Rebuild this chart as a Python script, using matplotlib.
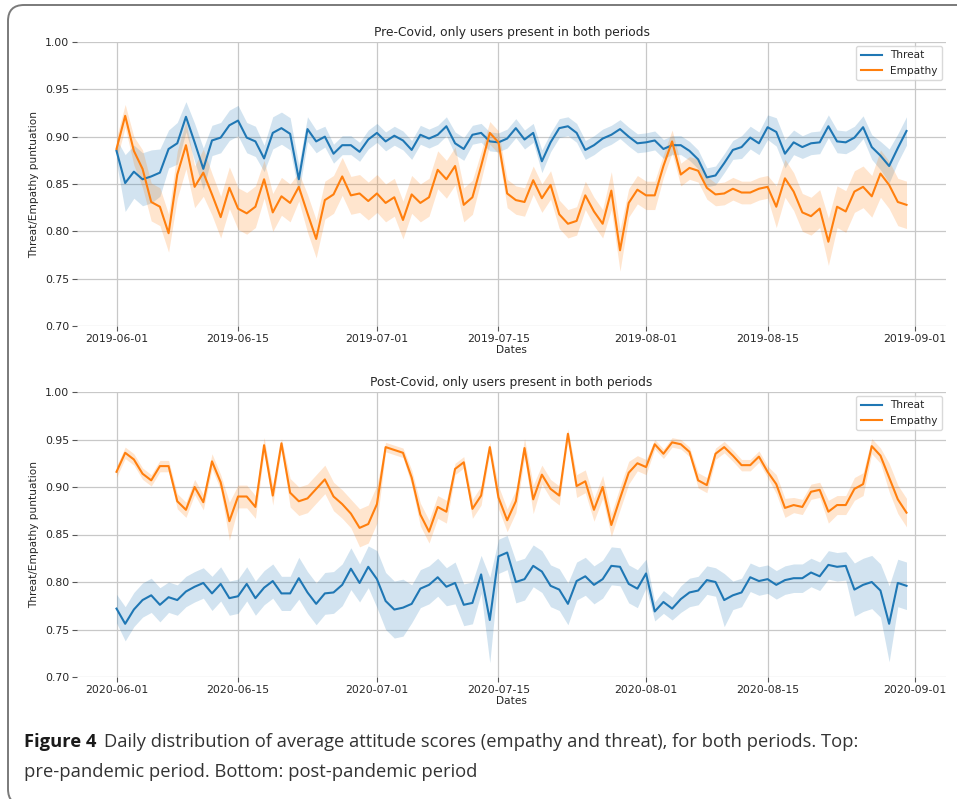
import numpy as np
import pandas as pd
import matplotlib
matplotlib.use("Agg")
import matplotlib.pyplot as plt
import matplotlib.dates as mdates
from matplotlib.patches import FancyBboxPatch
from matplotlib.transforms import IdentityTransform

# ---- daily mean scores and confidence half-widths ----
pre_dates = pd.date_range("2019-06-01", "2019-08-31", freq="D")
post_dates = pd.date_range("2020-06-01", "2020-08-31", freq="D")

pre_threat = [0.885, 0.851, 0.863, 0.855, 0.858, 0.862, 0.887, 0.893, 0.921, 0.894,
              0.866, 0.896, 0.899, 0.912, 0.917, 0.899, 0.895, 0.877, 0.904, 0.909,
              0.903, 0.855, 0.908, 0.895, 0.900, 0.882, 0.891, 0.891, 0.884, 0.897,
              0.904, 0.895, 0.901, 0.896, 0.886, 0.902, 0.898, 0.902, 0.911, 0.893,
              0.887, 0.902, 0.904, 0.895, 0.894, 0.898, 0.909, 0.897, 0.904, 0.874,
              0.894, 0.909, 0.911, 0.904, 0.886, 0.891, 0.898, 0.902, 0.908, 0.900,
              0.893, 0.894, 0.896, 0.887, 0.891, 0.891, 0.885, 0.876, 0.857, 0.859,
              0.872, 0.886, 0.889, 0.899, 0.893, 0.910, 0.905, 0.882, 0.894, 0.889,
              0.893, 0.894, 0.911, 0.895, 0.894, 0.899, 0.910, 0.889, 0.880, 0.869,
              0.888, 0.906]
pre_threat_ci = [0.012, 0.030, 0.028, 0.028, 0.028, 0.025, 0.020, 0.022, 0.016, 0.020,
                 0.022, 0.016, 0.016, 0.016, 0.016, 0.016, 0.016, 0.014, 0.017, 0.017,
                 0.017, 0.015, 0.013, 0.012, 0.011, 0.010, 0.010, 0.010, 0.010, 0.010,
                 0.010, 0.010, 0.010, 0.010, 0.010, 0.010, 0.010, 0.010, 0.010, 0.012,
                 0.012, 0.010, 0.010, 0.010, 0.010, 0.010, 0.010, 0.010, 0.010, 0.012,
                 0.010, 0.010, 0.010, 0.010, 0.010, 0.010, 0.010, 0.010, 0.010, 0.010,
                 0.010, 0.010, 0.010, 0.010, 0.010, 0.010, 0.010, 0.010, 0.010, 0.010,
                 0.010, 0.010, 0.012, 0.012, 0.012, 0.013, 0.015, 0.015, 0.013, 0.012,
                 0.012, 0.012, 0.012, 0.012, 0.012, 0.012, 0.012, 0.013, 0.015, 0.018,
                 0.015, 0.015]
pre_empathy = [0.887, 0.922, 0.885, 0.866, 0.831, 0.826, 0.798, 0.860, 0.891, 0.847,
               0.862, 0.839, 0.815, 0.846, 0.824, 0.819, 0.826, 0.855, 0.820, 0.837,
               0.830, 0.847, 0.819, 0.792, 0.833, 0.839, 0.858, 0.838, 0.840, 0.832,
               0.840, 0.830, 0.836, 0.812, 0.839, 0.830, 0.836, 0.865, 0.855, 0.869,
               0.828, 0.836, 0.869, 0.904, 0.894, 0.840, 0.833, 0.831, 0.854, 0.835,
               0.849, 0.818, 0.808, 0.811, 0.838, 0.821, 0.808, 0.843, 0.780, 0.830,
               0.844, 0.838, 0.838, 0.869, 0.895, 0.860, 0.867, 0.864, 0.846, 0.839,
               0.840, 0.845, 0.841, 0.841, 0.845, 0.847, 0.826, 0.856, 0.842, 0.820,
               0.816, 0.824, 0.789, 0.826, 0.821, 0.842, 0.847, 0.837, 0.861, 0.849,
               0.831, 0.828]
pre_empathy_ci = [0.012, 0.012, 0.015, 0.020, 0.020, 0.020, 0.020, 0.025, 0.025, 0.022,
                  0.025, 0.022, 0.022, 0.022, 0.022, 0.022, 0.022, 0.020, 0.020, 0.020,
                  0.020, 0.015, 0.020, 0.020, 0.020, 0.020, 0.020, 0.020, 0.020, 0.020,
                  0.020, 0.020, 0.020, 0.020, 0.020, 0.020, 0.020, 0.020, 0.020, 0.020,
                  0.018, 0.018, 0.015, 0.012, 0.012, 0.015, 0.015, 0.015, 0.015, 0.015,
                  0.015, 0.015, 0.015, 0.015, 0.015, 0.015, 0.015, 0.020, 0.022, 0.015,
                  0.015, 0.015, 0.015, 0.012, 0.012, 0.012, 0.012, 0.012, 0.012, 0.012,
                  0.012, 0.012, 0.012, 0.012, 0.012, 0.012, 0.022, 0.020, 0.020, 0.020,
                  0.020, 0.020, 0.025, 0.022, 0.022, 0.022, 0.022, 0.022, 0.025, 0.025,
                  0.025, 0.025]

post_threat = [0.772, 0.756, 0.771, 0.781, 0.786, 0.776, 0.784, 0.781, 0.790, 0.795,
               0.799, 0.788, 0.798, 0.783, 0.785, 0.798, 0.783, 0.794, 0.801, 0.788,
               0.788, 0.804, 0.789, 0.777, 0.788, 0.789, 0.797, 0.814, 0.799, 0.816,
               0.803, 0.780, 0.771, 0.773, 0.777, 0.793, 0.797, 0.805, 0.795, 0.799,
               0.776, 0.778, 0.808, 0.760, 0.827, 0.831, 0.800, 0.803, 0.817, 0.811,
               0.796, 0.792, 0.777, 0.801, 0.806, 0.797, 0.803, 0.817, 0.816, 0.798,
               0.793, 0.809, 0.769, 0.779, 0.772, 0.782, 0.789, 0.791, 0.802, 0.800,
               0.781, 0.786, 0.789, 0.805, 0.801, 0.803, 0.797, 0.802, 0.804, 0.804,
               0.810, 0.806, 0.818, 0.816, 0.817, 0.792, 0.797, 0.800, 0.791, 0.756,
               0.799, 0.796]
post_threat_ci = [0.015, 0.018, 0.018, 0.018, 0.018, 0.018, 0.016, 0.016, 0.016, 0.016,
                  0.016, 0.018, 0.018, 0.018, 0.018, 0.018, 0.018, 0.018, 0.018, 0.018,
                  0.018, 0.022, 0.022, 0.022, 0.022, 0.022, 0.022, 0.022, 0.020, 0.022,
                  0.030, 0.030, 0.030, 0.030, 0.020, 0.020, 0.020, 0.020, 0.020, 0.022,
                  0.022, 0.022, 0.020, 0.045, 0.018, 0.018, 0.022, 0.022, 0.022, 0.022,
                  0.022, 0.022, 0.022, 0.020, 0.020, 0.020, 0.020, 0.020, 0.020, 0.020,
                  0.020, 0.015, 0.010, 0.012, 0.012, 0.014, 0.015, 0.015, 0.015, 0.015,
                  0.028, 0.015, 0.015, 0.015, 0.015, 0.015, 0.015, 0.015, 0.015, 0.015,
                  0.015, 0.015, 0.015, 0.015, 0.015, 0.028, 0.028, 0.028, 0.028, 0.040,
                  0.025, 0.025]
post_empathy = [0.916, 0.936, 0.929, 0.914, 0.907, 0.922, 0.922, 0.885, 0.876, 0.900,
                0.884, 0.927, 0.905, 0.864, 0.890, 0.890, 0.879, 0.944, 0.891, 0.946,
                0.894, 0.885, 0.888, 0.898, 0.908, 0.890, 0.882, 0.872, 0.857, 0.861,
                0.882, 0.942, 0.939, 0.936, 0.910, 0.871, 0.853, 0.879, 0.874, 0.919,
                0.926, 0.877, 0.891, 0.942, 0.889, 0.865, 0.885, 0.941, 0.887, 0.913,
                0.898, 0.891, 0.956, 0.901, 0.906, 0.876, 0.900, 0.860, 0.888, 0.915,
                0.925, 0.921, 0.945, 0.935, 0.947, 0.945, 0.937, 0.907, 0.902, 0.935,
                0.942, 0.933, 0.923, 0.923, 0.932, 0.916, 0.903, 0.878, 0.881, 0.879,
                0.895, 0.897, 0.874, 0.881, 0.881, 0.898, 0.903, 0.943, 0.933, 0.910,
                0.887, 0.873]
post_empathy_ci = [0.006, 0.006, 0.006, 0.006, 0.006, 0.006, 0.006, 0.008, 0.008, 0.008,
                   0.008, 0.008, 0.008, 0.020, 0.012, 0.012, 0.012, 0.008, 0.010, 0.005,
                   0.015, 0.015, 0.015, 0.015, 0.015, 0.015, 0.015, 0.015, 0.020, 0.020,
                   0.020, 0.005, 0.005, 0.005, 0.008, 0.012, 0.012, 0.012, 0.012, 0.006,
                   0.006, 0.010, 0.010, 0.005, 0.012, 0.012, 0.012, 0.010, 0.015, 0.010,
                   0.010, 0.010, 0.005, 0.012, 0.012, 0.012, 0.012, 0.012, 0.012, 0.012,
                   0.008, 0.008, 0.005, 0.005, 0.005, 0.005, 0.005, 0.008, 0.008, 0.006,
                   0.006, 0.006, 0.006, 0.006, 0.006, 0.006, 0.010, 0.010, 0.008, 0.008,
                   0.008, 0.008, 0.012, 0.010, 0.010, 0.012, 0.012, 0.008, 0.008, 0.015,
                   0.015, 0.015]

y_ticks = [0.70, 0.75, 0.80, 0.85, 0.90, 0.95, 1.00]
panels = [
    ("Pre-Covid, only users present in both periods", pre_dates,
     pre_threat, pre_threat_ci, pre_empathy, pre_empathy_ci),
    ("Post-Covid, only users present in both periods", post_dates,
     post_threat, post_threat_ci, post_empathy, post_empathy_ci),
]

THREAT_C = "#1f77b4"
EMPATHY_C = "#ff7f0e"
TEXT_C = "#262626"

W, H = 957, 799
fig = plt.figure(figsize=(W / 100, H / 100), dpi=100)
fig.patch.set_facecolor("white")

# rounded page frame around the figure
frame = FancyBboxPatch((8, -6), 1000, 800,
                       boxstyle="round,pad=0,rounding_size=16",
                       transform=IdentityTransform(), facecolor="none",
                       edgecolor="#7a7a7a", linewidth=1.4)
fig.add_artist(frame)

# axes boxes in pixel units: (left, top, right, bottom)
boxes = [(77, 42, 946, 326), (77, 392, 946, 677)]

for (title, dates, thr, thr_ci, emp, emp_ci), (l, t, r, b) in zip(panels, boxes):
    ax = fig.add_axes([l / W, 1 - b / H, (r - l) / W, (b - t) / H])
    thr = np.array(thr); thr_ci = np.array(thr_ci)
    emp = np.array(emp); emp_ci = np.array(emp_ci)

    ax.fill_between(dates, thr - thr_ci, thr + thr_ci, color=THREAT_C,
                    alpha=0.2, linewidth=0)
    ax.fill_between(dates, emp - emp_ci, emp + emp_ci, color=EMPATHY_C,
                    alpha=0.2, linewidth=0)
    ax.plot(dates, thr, color=THREAT_C, lw=1.5, label="Threat")
    ax.plot(dates, emp, color=EMPATHY_C, lw=1.5, label="Empathy")

    ax.set_ylim(0.70, 1.00)
    ax.set_yticks(y_ticks)
    ax.yaxis.set_major_formatter(matplotlib.ticker.FormatStrFormatter("%.2f"))
    ax.xaxis.set_major_locator(mdates.DayLocator(bymonthday=[1, 15]))
    ax.xaxis.set_major_formatter(mdates.DateFormatter("%Y-%m-%d"))
    ax.margins(x=0.05)

    ax.grid(True, color="#c8c8c8", linewidth=0.9)
    ax.set_axisbelow(True)
    for s in ax.spines.values():
        s.set_visible(False)
    ax.tick_params(axis="both", labelsize=7.8, colors=TEXT_C, length=3.5,
                   width=0.8, pad=2)
    ax.tick_params(axis="both", color="#555555")

    ax.set_title(title, fontsize=8.8, color=TEXT_C, pad=4)
    ax.set_xlabel("Dates", fontsize=7.6, color=TEXT_C, labelpad=1)
    ax.set_ylabel("Threat/Empathy puntuation", fontsize=7.6, color=TEXT_C,
                  labelpad=4)
    leg = ax.legend(loc="upper right", fontsize=7.6, frameon=True,
                    borderaxespad=0.4, handlelength=2.0)
    leg.get_frame().set_edgecolor("#d0d0d0")
    for txt in leg.get_texts():
        txt.set_color(TEXT_C)

# caption below the panels
cap_font = "Open Sans"
fig.text(24 / W, 1 - 742 / H, "Figure 4", fontsize=13.2, fontweight="bold",
         family=cap_font, color="#1a1a1a", va="center", ha="left")
fig.text(104 / W, 1 - 742 / H,
         "Daily distribution of average attitude scores (empathy and threat), "
         "for both periods. Top:",
         fontsize=13.2, family=cap_font, color="#333333", va="center", ha="left")
fig.text(24 / W, 1 - 772 / H, "pre-pandemic period. Bottom: post-pandemic period",
         fontsize=13.2, family=cap_font, color="#333333", va="center", ha="left")

fig.savefig("out.png", dpi=100, facecolor="white")
